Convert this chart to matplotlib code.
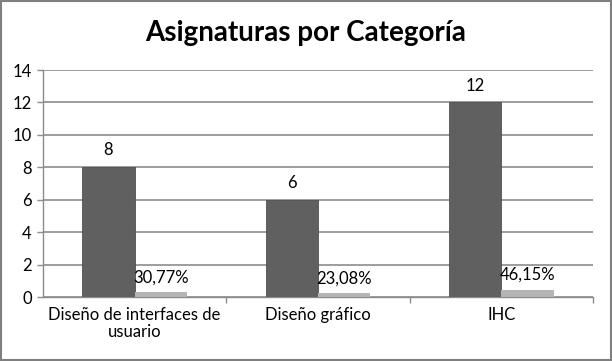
import matplotlib.pyplot as plt
import numpy as np

# datos
categorias = ['Diseño de interfaces de\nusuario', 'Diseño gráfico', 'IHC']
asignaturas = [8, 6, 12]
porcentajes = [0.3077, 0.2308, 0.4615]
etiquetas_pct = ['30,77%', '23,08%', '46,15%']

plt.rcParams['font.family'] = ['Lato', 'DejaVu Sans']

fig = plt.figure(figsize=(6.12, 3.61), dpi=100)
ax = fig.add_axes([43/612, 1-297/361, 550/612, 227/361])

x = np.arange(len(categorias))
w = 1/3.5
b1 = ax.bar(x - w/2, asignaturas, w, color='#606060', edgecolor='#505050', linewidth=0.6, zorder=3)
b2 = ax.bar(x + w/2, porcentajes, w, color='#b4b4b4', zorder=3)

for r, v in zip(b1, asignaturas):
    ax.text(r.get_x() + r.get_width()/2, v + 0.55, str(v), ha='center', va='bottom', fontsize=12)
for r, t in zip(b2, etiquetas_pct):
    ax.text(r.get_x() + r.get_width()/2, r.get_height() + 0.4, t, ha='center', va='bottom', fontsize=12)

ax.set_xlim(-0.5, 2.5)
ax.set_ylim(0, 14)
ax.set_yticks(range(0, 15, 2))
ax.yaxis.grid(True, color='#8c8c8c', linewidth=1.2, zorder=0)
ax.set_axisbelow(True)
ax.set_xticks(x)
ax.set_xticklabels(categorias, fontsize=12, linespacing=1.1)
ax.set_xticks([0.5, 1.5, 2.5], minor=True)
ax.tick_params(axis='x', which='major', length=0, pad=7)
ax.tick_params(axis='x', which='minor', length=4, color='#8c8c8c', width=1)
ax.tick_params(axis='y', length=4, color='#8c8c8c', width=1, labelsize=12, pad=4)
for s in ['top', 'right']:
    ax.spines[s].set_visible(False)
for s in ['left', 'bottom']:
    ax.spines[s].set_color('#8c8c8c')
    ax.spines[s].set_linewidth(1)

fig.text(0.5, 1-33/361, 'Asignaturas por Categoría', ha='center', va='center',
         fontsize=20, fontweight='bold')

# marco
fig.patches.append(plt.Rectangle((0.002, 0.003), 0.996, 0.994, transform=fig.transFigure,
                                 fill=False, edgecolor='#7f7f7f', linewidth=1.5))

plt.savefig('out.png', dpi=100)
